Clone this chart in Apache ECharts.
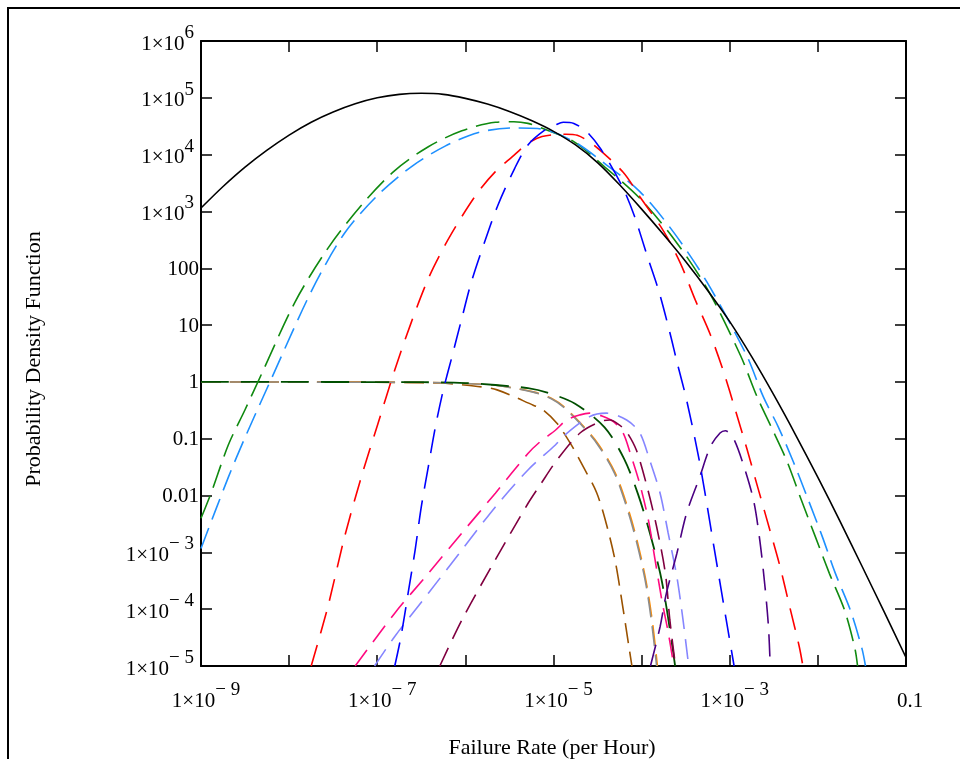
<!DOCTYPE html>
<html><head><meta charset="utf-8">
<script src="https://cdn.jsdelivr.net/npm/echarts@6/dist/echarts.min.js"></script>
<style>html,body{margin:0;padding:0;background:#fff}#c{width:960px;height:759px}</style>
</head><body><div id="c"></div>
<script>
// ---- axis tick labels ----
const xLabelExponents = [-9, -7, -5, -3, -1];
const plainLabels = { '-2': '0.01', '-1': '0.1', '0': '1', '1': '10', '2': '100' };
const xTitle = 'Failure Rate (per Hour)';
const yTitle = 'Probability Density Function';

// ---- series values (failure rate, pdf) ----
const blackX = [1e-9, 1.78e-9, 3.16e-9, 5.62e-9, 1e-8, 1.78e-8, 3.16e-8, 5.62e-8, 1e-7, 1.78e-7, 3.16e-7, 5.62e-7, 1e-6, 1.78e-6, 3.16e-6, 5.62e-6, 1e-5, 1.78e-5, 3.16e-5, 5.62e-5, 1e-4, 1.78e-4, 3.16e-4, 5.62e-4, 1e-3, 1.78e-3, 3.16e-3, 5.62e-3, 1e-2, 1.78e-2, 3.16e-2, 5.62e-2, 0.1];
const blackY = [1150, 2750, 6030, 12000, 22100, 37200, 56200, 78500, 100000, 115000, 120000, 115000, 97700, 77600, 57500, 39800, 25700, 14800, 7240, 2950, 1100, 389, 132, 40.7, 11.5, 2.75, 0.589, 0.115, 0.0209, 3.55e-3, 5.75e-4, 9.12e-5, 1.41e-5];

const greenX = [1e-9, 1.32e-9, 2.04e-9, 3.16e-9, 4.90e-9, 1.17e-8, 2.75e-8, 6.61e-8, 1.58e-7, 3.80e-7, 9.12e-7, 2.19e-6, 3.55e-6, 5.13e-6, 7.59e-6, 1.70e-5, 3.98e-5, 9.55e-5, 2.29e-4, 5.50e-4, 1.32e-3, 2.04e-3, 2.95e-3, 4.47e-3, 6.46e-3, 9.33e-3, 0.0135, 0.0200, 0.0263, 0.0282];
const greenY = [3.98e-3, 0.0117, 0.0776, 0.324, 1.41, 25.7, 224, 1288, 5250, 13800, 26300, 37154, 38019, 35481, 28840, 16982, 5754, 1698, 339, 44.7, 2.95, 0.55, 0.162, 0.0398, 8.51e-3, 1.91e-3, 4.27e-4, 9.77e-5, 2.04e-5, 1e-5];

const skyX = [1e-9, 2.04e-9, 3.16e-9, 6.31e-9, 1.82e-8, 4.27e-8, 1.02e-7, 2.45e-7, 5.89e-7, 1.41e-6, 3.39e-6, 6.61e-6, 1.70e-5, 3.98e-5, 9.55e-5, 2.29e-4, 5.50e-4, 1.55e-3, 2.40e-3, 3.55e-3, 5.25e-3, 7.76e-3, 0.0112, 0.0158, 0.0234, 0.0316, 0.0347];
const skyY = [1.17e-3, 0.0209, 0.105, 1.15, 41.7, 417, 1950, 6170, 14100, 24500, 29500, 28800, 16982, 6607, 2239, 437, 57.5, 2.95, 0.55, 0.162, 0.0398, 8.51e-3, 1.91e-3, 4.27e-4, 9.55e-5, 2.04e-5, 1e-5];

const redX = [1.78e-8, 2.75e-8, 4.27e-8, 6.61e-8, 1.02e-7, 1.58e-7, 2.45e-7, 3.80e-7, 5.89e-7, 9.12e-7, 1.41e-6, 2.19e-6, 3.39e-6, 5.13e-6, 7.41e-6, 1.38e-5, 1.86e-5, 2.82e-5, 6.17e-5, 9.55e-5, 1.78e-4, 2.75e-4, 4.07e-4, 6.03e-4, 8.51e-4, 1.17e-3, 1.58e-3, 2.09e-3, 2.82e-3, 3.72e-3, 4.79e-3, 6.17e-3, 6.76e-3];
const redY = [1e-5, 1.10e-4, 1.91e-3, 0.0214, 0.186, 1.62, 11.5, 66.1, 257, 813, 2239, 5012, 9120, 15849, 20893, 22909, 21878, 15136, 4898, 1820, 447, 123, 27.5, 6.76, 1.51, 0.302, 0.0631, 0.0135, 2.63e-3, 5.62e-4, 1.10e-4, 2.14e-5, 1e-5];

const blueX = [1.58e-7, 1.86e-7, 2.24e-7, 2.69e-7, 3.16e-7, 3.80e-7, 4.57e-7, 5.62e-7, 6.92e-7, 9.12e-7, 1.17e-6, 1.66e-6, 2.34e-6, 3.63e-6, 5.13e-6, 7.94e-6, 1.05e-5, 1.29e-5, 1.70e-5, 2.40e-5, 3.47e-5, 6.03e-5, 8.32e-5, 1.15e-4, 1.58e-4, 2.09e-4, 2.51e-4, 3.24e-4, 4.57e-4, 6.61e-4, 9.55e-4, 1.12e-3];
const blueY = [1e-5, 3.31e-5, 1.91e-4, 1.10e-3, 6.31e-3, 0.0324, 0.162, 0.724, 2.5, 13.2, 57.5, 295, 1288, 5754, 14791, 26915, 33113, 37154, 35481, 25119, 12303, 2754, 813, 170, 38, 7.41, 2.29, 0.479, 0.0372, 1.26e-3, 4.27e-5, 1e-5];

const dkgreenX = [1e-9, 3.16e-7, 1e-6, 2.19e-6, 5.13e-6, 8.51e-6, 1.74e-5, 3.80e-5, 6.31e-5, 9.12e-5, 1.24e-4, 1.62e-4, 1.91e-4, 2.29e-4, 2.40e-4];
const dkgreenY = [1, 0.989, 0.955, 0.883, 0.776, 0.646, 0.417, 0.158, 0.0447, 0.0105, 2.19e-3, 4.37e-4, 1.10e-4, 1.66e-5, 1e-5];

const brownX = [1e-9, 1e-7, 5.01e-7, 1.38e-6, 2.29e-6, 5.89e-6, 7.59e-6, 1.10e-5, 1.58e-5, 2.19e-5, 3.09e-5, 3.98e-5, 5.01e-5, 6.17e-5, 7.24e-5, 7.76e-5];
const brownY = [1, 0.989, 0.955, 0.832, 0.724, 0.389, 0.324, 0.186, 0.0794, 0.0316, 0.0112, 3.16e-3, 7.08e-4, 1e-4, 2.0e-5, 1e-5];

const greyX = [1e-9, 3.16e-7, 1e-6, 2.19e-6, 5.89e-6, 9.55e-6, 1.29e-5, 2.0e-5, 3.16e-5, 4.90e-5, 6.92e-5, 8.71e-5, 1.10e-4, 1.29e-4, 1.48e-4];
const greyY = [1, 0.977, 0.933, 0.871, 0.661, 0.501, 0.363, 0.186, 0.0794, 0.0251, 5.62e-3, 1.58e-3, 3.16e-4, 6.31e-5, 1e-5];

const orangeX = [1e-9, 3.24e-7, 1.02e-6, 2.24e-6, 6.03e-6, 9.77e-6, 1.32e-5, 2.04e-5, 3.24e-5, 5.01e-5, 7.08e-5, 8.91e-5, 1.12e-4, 1.32e-4, 1.51e-4];
const orangeY = [1, 0.977, 0.933, 0.871, 0.661, 0.501, 0.363, 0.186, 0.0794, 0.0251, 5.62e-3, 1.58e-3, 3.16e-4, 6.31e-5, 1e-5];

const pinkX = [5.62e-8, 1.58e-7, 3.80e-7, 9.12e-7, 2.19e-6, 5.13e-6, 7.08e-6, 1.05e-5, 1.41e-5, 2.0e-5, 2.57e-5, 3.55e-5, 4.79e-5, 6.17e-5, 7.41e-5, 9.55e-5, 1.20e-4, 1.41e-4, 1.70e-4, 2.0e-4, 2.29e-4];
const pinkY = [1e-5, 8.51e-5, 4.27e-4, 2.19e-3, 0.011, 0.055, 0.0891, 0.141, 0.214, 0.263, 0.282, 0.251, 0.20, 0.126, 0.0562, 0.0158, 3.55e-3, 7.94e-4, 1.41e-4, 3.98e-5, 1.12e-5];

const periX = [9.33e-8, 1.58e-7, 3.80e-7, 9.12e-7, 2.19e-6, 5.13e-6, 1.05e-5, 1.29e-5, 2.57e-5, 3.98e-5, 6.76e-5, 9.55e-5, 1.23e-4, 1.62e-4, 2.0e-4, 2.51e-4, 2.95e-4, 3.39e-4];
const periY = [1e-5, 3.31e-5, 1.91e-4, 1.10e-3, 6.31e-3, 0.0282, 0.0776, 0.11, 0.245, 0.282, 0.214, 0.126, 0.0427, 0.011, 2.19e-3, 3.72e-4, 6.46e-5, 1.12e-5];

const maroonX = [5.13e-7, 9.12e-7, 2.19e-6, 5.13e-6, 7.08e-6, 1.10e-5, 2.0e-5, 3.39e-5, 4.37e-5, 5.62e-5, 6.76e-5, 8.71e-5, 1.15e-4, 1.48e-4, 1.86e-4, 2.09e-4, 2.40e-4];
const maroonY = [1e-5, 6.46e-5, 7.41e-4, 7.24e-3, 0.0155, 0.0427, 0.126, 0.20, 0.214, 0.174, 0.132, 0.0631, 0.0145, 2.82e-3, 4.27e-4, 6.46e-5, 1.12e-5];

const indigoX = [1.26e-4, 1.62e-4, 1.91e-4, 2.51e-4, 3.24e-4, 4.57e-4, 6.03e-4, 7.76e-4, 8.91e-4, 1.10e-3, 1.41e-3, 1.86e-3, 2.19e-3, 2.51e-3, 2.75e-3, 2.88e-3];
const indigoY = [1e-5, 4.9e-5, 1.91e-4, 9.55e-4, 4.9e-3, 0.0214, 0.0724, 0.126, 0.138, 0.102, 0.0372, 8.32e-3, 1.66e-3, 2.51e-4, 4.9e-5, 1e-5];

// ---- build chart ----
const FONT = '"Liberation Serif", "Times New Roman", serif';
const zip = (xs, ys) => xs.map((x, i) => [x, ys[i]]);
function sup(e) { return e < 0 ? '\u2212 ' + (-e) : String(e); }
function yFmt(v) {
  const e = Math.round(Math.log10(v));
  if (plainLabels[e] !== undefined) return '{p|' + plainLabels[e] + '}';
  return '{m|1\u00d710}{s|' + sup(e) + '}';
}
function xFmt(v) {
  const e = Math.round(Math.log10(v));
  if (xLabelExponents.indexOf(e) < 0) return '';
  if (plainLabels[e] !== undefined) return '{p|' + plainLabels[e] + '}';
  return '{m|1\u00d710}{s|' + sup(e) + '}';
}
const base = { fontFamily: FONT, color: '#000' };
const richX = {
  m: Object.assign({ fontSize: 21, lineHeight: 22, padding: [10, 0, 0, 10] }, base),
  s: Object.assign({ fontSize: 19, lineHeight: 20, padding: [0, 0, 12, 0] }, base),
  p: Object.assign({ fontSize: 21, lineHeight: 22, padding: [10, 0, 0, 8] }, base)
};
const richY = {
  m: Object.assign({ fontSize: 21, lineHeight: 22, padding: [6, 0, 0, 0] }, base),
  s: Object.assign({ fontSize: 19, lineHeight: 20, padding: [0, 5, 16, 0] }, base),
  p: Object.assign({ fontSize: 21, lineHeight: 22, padding: [2, 0, 0, 0] }, base)
};
const axisLine = { show: true, onZero: false, lineStyle: { color: '#000', width: 2 } };
const axisTick = { show: true, inside: true, length: 11, lineStyle: { color: '#000', width: 1.5 } };

function mk(name, xs, ys, color, dash, width, z) {
  return {
    name, type: 'line', data: zip(xs, ys), symbol: 'none', showSymbol: false,
    smooth: 0.3, z: z, xAxisIndex: 0, yAxisIndex: 0,
    lineStyle: { color, width: width, type: dash }
  };
}

const chart = echarts.init(document.getElementById('c'), null, { renderer: 'canvas' });
chart.setOption({
  animation: false,
  backgroundColor: '#fff',
  grid: { left: 201, top: 41, right: 54, bottom: 93, containLabel: false, outerBoundsMode: 'none' },
  xAxis: [
    { type: 'log', logBase: 10, min: 1e-9, max: 0.1, interval: 1, position: 'bottom',
      axisLine, axisTick, splitLine: { show: false }, minorTick: { show: false },
      axisLabel: { show: true, margin: 19, formatter: xFmt, rich: richX } },
    { type: 'log', logBase: 10, min: 1e-9, max: 0.1, interval: 1, position: 'top',
      axisLine, axisTick, splitLine: { show: false }, axisLabel: { show: false } }
  ],
  yAxis: [
    { type: 'log', logBase: 10, min: 1e-5, max: 1e6, interval: 1, position: 'left',
      axisLine, axisTick, splitLine: { show: false },
      axisLabel: { show: true, margin: 2, formatter: yFmt, rich: richY } },
    { type: 'log', logBase: 10, min: 1e-5, max: 1e6, interval: 1, position: 'right',
      axisLine, axisTick, splitLine: { show: false }, axisLabel: { show: false } }
  ],
  graphic: [
    { type: 'rect', silent: true, shape: { x: 8, y: 8, width: 1200, height: 1200 },
      style: { fill: 'none', stroke: '#000', lineWidth: 2 } },
    { type: 'text', silent: true, x: 552, y: 748,
      style: { text: xTitle, font: '22px ' + FONT, fill: '#000', align: 'center', verticalAlign: 'middle' } },
    { type: 'text', silent: true, x: 34, y: 359, rotation: Math.PI / 2,
      style: { text: yTitle, font: '22px ' + FONT, fill: '#000', align: 'center', verticalAlign: 'middle' } }
  ],
  series: [
    mk('brown', brownX, brownY, '#9A5200', [20, 9], 1.6, 2),
    mk('orange', orangeX, orangeY, '#FF8C00', [20, 9], 1.6, 2),
    mk('grey', greyX, greyY, '#8C8C8C', [20, 9], 1.6, 2),
    mk('darkgreen', dkgreenX, dkgreenY, '#004F00', [28, 12], 1.8, 3),
    mk('pink', pinkX, pinkY, '#FF0A80', [20, 10], 1.6, 3),
    mk('periwinkle', periX, periY, '#8585FF', [20, 10], 1.6, 3),
    mk('maroon', maroonX, maroonY, '#800040', [20, 10], 1.6, 3),
    mk('indigo', indigoX, indigoY, '#4B0082', [22, 11], 1.6, 3),
    mk('green', greenX, greenY, '#108A10', [24, 9], 1.6, 4),
    mk('sky', skyX, skyY, '#1E90FF', [22, 9], 1.6, 4),
    mk('red', redX, redY, '#FF0000', [22, 12], 1.6, 4),
    mk('blue', blueX, blueY, '#0000FF', [24, 12], 1.6, 4),
    mk('black', blackX, blackY, '#000000', 'solid', 1.6, 5)
  ]
});
</script>
</body></html>
